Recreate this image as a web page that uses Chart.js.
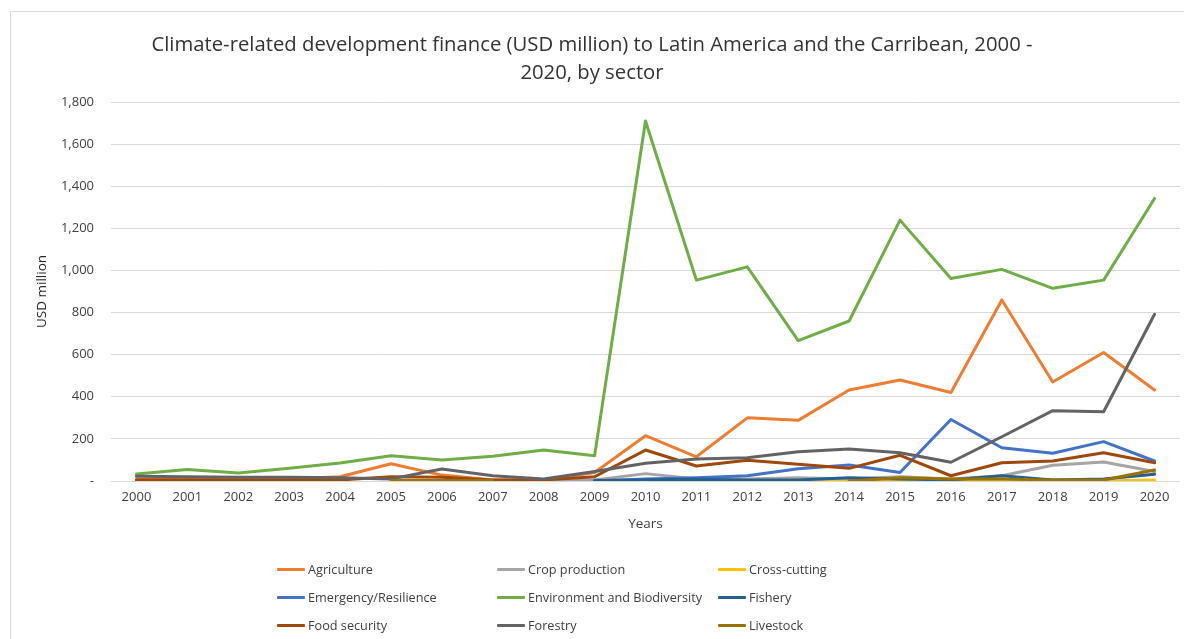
<!DOCTYPE html>
<html>
<head>
<meta charset="utf-8">
<script src="https://cdn.jsdelivr.net/npm/chart.js@4"></script>
<style>
  html, body { margin: 0; padding: 0; background: #fff; }
  body { width: 1184px; height: 639px; position: relative; overflow: hidden; font-family: "Open Sans", sans-serif; }
  #frame { position: absolute; left: 10px; top: 11px; width: 1200px; height: 700px; border: 1px solid #D9D9D9; box-sizing: border-box; }
  #wrap { position: absolute; left: 0; top: 0; width: 1184px; height: 639px; }
  #title { position: absolute; left: 0; width: 1184px; top: 29px; text-align: center; font-size: 20.3px; line-height: 28px; color: #333; }
  #legend { position: absolute; left: 277px; top: 555px; display: grid; grid-template-columns: 220px 221px 200px; grid-auto-rows: 28px; font-size: 12.7px; color: #404040; }
  .item { display: flex; align-items: center; white-space: nowrap; }
  .sw { width: 28px; height: 3px; margin-right: 3px; border-radius: 1px; }
</style>
</head>
<body>
<div id="frame"></div>
<div id="wrap"><canvas id="c" width="1184" height="639"></canvas></div>
<div id="title">Climate-related development finance (USD million) to Latin America and the Carribean, 2000 -<br>2020, by sector</div>
<div id="legend"></div>
<script>
const years = ['2000','2001','2002','2003','2004','2005','2006','2007','2008','2009','2010','2011','2012','2013','2014','2015','2016','2017','2018','2019','2020'];

const agriculture    = [8, 8, 8, 10, 20, 82, 28, 5, 5, 40, 215, 115, 300, 288, 432, 480, 420, 860, 470, 610, 432];
const cropProduction = [null, null, null, null, null, null, null, null, 5, 5, 35, 10, 10, 15, 10, 20, 10, 25, 75, 90, 45];
const crossCutting   = [null, null, null, null, null, null, null, null, null, null, 8, 3, 3, 3, 0, 5, 5, 5, 0, 0, 5];
const emergency      = [null, null, null, null, null, null, null, null, null, 0, 10, 15, 25, 58, 76, 40, 292, 158, 132, 187, 95];
const environment    = [33, 55, 38, 60, 85, 120, 100, 118, 147, 120, 1710, 954, 1017, 667, 760, 1239, 962, 1005, 915, 954, 1342];
const fishery        = [null, null, null, null, null, null, null, null, null, 2, 5, 8, 5, 5, 15, 10, 5, 25, 5, 10, 32];
const foodSecurity   = [5, 5, 5, 5, 5, 20, 18, 5, 5, 20, 147, 71, 98, 80, 60, 122, 25, 87, 95, 134, 87];
const forestry       = [22, 20, 18, 18, 15, 10, 57, 25, 10, 45, 84, 104, 110, 139, 152, 134, 89, 210, 334, 329, 792];
const livestock      = [null, null, null, null, null, 2, 2, 2, null, null, null, null, null, null, 0, 15, 10, 10, 5, 5, 52];

const seriesNames  = ['Agriculture','Crop production','Cross-cutting','Emergency/Resilience','Environment and Biodiversity','Fishery','Food security','Forestry','Livestock'];
const seriesData   = [agriculture, cropProduction, crossCutting, emergency, environment, fishery, foodSecurity, forestry, livestock];
const seriesColors = ['#ED7D31','#A5A5A5','#FFC000','#4472C4','#70AD47','#255E91','#9E480E','#636363','#997300'];

const yTicks = [0, 200, 400, 600, 800, 1000, 1200, 1400, 1600, 1800];

const datasets = seriesNames.map((n, i) => ({
  label: n,
  data: seriesData[i],
  borderColor: seriesColors[i],
  backgroundColor: seriesColors[i],
  borderWidth: 3,
  pointRadius: 0,
  tension: 0,
  fill: false,
  borderCapStyle: 'round',
  borderJoinStyle: 'round',
  order: seriesNames.length - i
}));

const lg = document.getElementById('legend');
seriesNames.forEach((n, i) => {
  const d = document.createElement('div');
  d.className = 'item';
  d.innerHTML = '<span class="sw" style="background:' + seriesColors[i] + '"></span><span>' + n + '</span>';
  lg.appendChild(d);
});

const tickFont = { family: 'Open Sans', size: 13 };
new Chart(document.getElementById('c'), {
  type: 'line',
  data: { labels: years, datasets },
  options: {
    responsive: false,
    animation: false,
    devicePixelRatio: 1,
    layout: { padding: { left: 10, right: 4, top: 102, bottom: 98 } },
    plugins: { legend: { display: false }, title: { display: false }, tooltip: { enabled: false } },
    scales: {
      x: {
        offset: true,
        grid: { display: false, drawTicks: false },
        border: { display: false },
        ticks: { font: tickFont, color: '#404040', padding: 8, maxRotation: 0, autoSkip: false },
        title: { display: true, text: 'Years', font: { family: 'Open Sans', size: 13.5 }, color: '#404040', padding: { top: 9, bottom: 9 } },
        afterFit: s => { s.height = 60; }
      },
      y: {
        min: 0, max: 1800,
        afterBuildTicks: s => { s.ticks = yTicks.map(v => ({ value: v })); },
        grid: { color: '#D9D9D9', lineWidth: 1, drawTicks: false },
        border: { display: false },
        ticks: {
          font: tickFont, color: '#404040', padding: 17,
          callback: v => v === 0 ? '-' : v.toLocaleString('en-US')
        },
        title: { display: true, text: 'USD million', font: { family: 'Open Sans', size: 13.5 }, color: '#262626', padding: { top: 24, bottom: 0 } },
        afterFit: s => { s.width = 101; }
      }
    }
  }
});
</script>
</body>
</html>
